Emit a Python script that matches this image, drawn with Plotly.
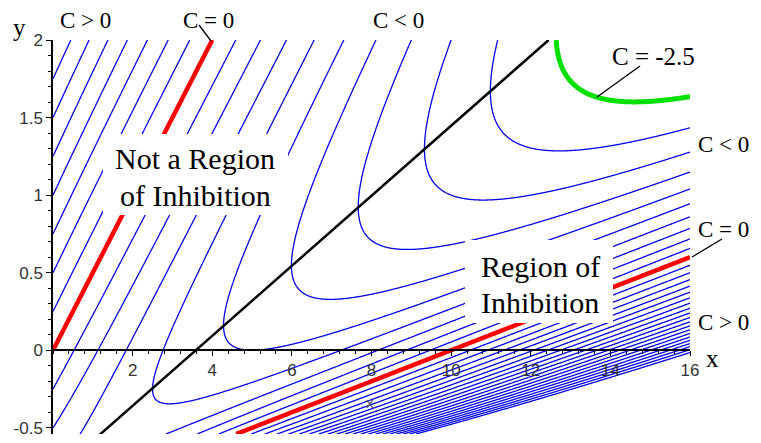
import numpy as np
import plotly.graph_objects as go

# ---------------- data ----------------
x_range = [0, 16]
y_range = [-0.54, 2.0]

# C(x, y) = (y - a*x) * (1 - x / (b*(1 + y)))   -- zero set: y = x/2 and y = x/10 - 1
a_coef = 0.5
b_coef = 10.0

levels_start = -2.5
levels_end = 5.0
levels_step = 0.25
zero_level = 0.0
green_level = -2.5

# black separating line, end points
black_x = [1.15, 12.45]
black_y = [-0.55, 2.0]

x_tickvals = [2, 4, 6, 8, 10, 12, 14, 16]
y_tickvals = [-0.5, 0, 0.5, 1, 1.5, 2]
y_ticktext = ["-0.5", "0", "0.5", "1", "1.5", "2"]

# ---------------- grid ----------------
gx = np.linspace(x_range[0], x_range[1], 801)
gy = np.linspace(y_range[0], y_range[1], 601)
X, Y = np.meshgrid(gx, gy)
Z = (Y - a_coef * X) * (1 - X / (b_coef * (1 + Y)))

fig = go.Figure()

fig.add_trace(go.Contour(
    x=gx, y=gy, z=Z, autocontour=False,
    contours=dict(start=levels_start, end=levels_end, size=levels_step, coloring="lines"),
    colorscale=[[0, "#0000e8"], [1, "#0000e8"]], showscale=False,
    line=dict(width=1.3), hoverinfo="skip"))

fig.add_trace(go.Contour(
    x=gx, y=gy, z=Z, autocontour=False,
    contours=dict(start=zero_level, end=zero_level, size=1, coloring="lines"),
    colorscale=[[0, "#ff0000"], [1, "#ff0000"]], showscale=False,
    line=dict(width=4.5), hoverinfo="skip"))

fig.add_trace(go.Contour(
    x=gx, y=gy, z=Z, autocontour=False,
    contours=dict(start=green_level, end=green_level, size=1, coloring="lines"),
    colorscale=[[0, "#00e000"], [1, "#00e000"]], showscale=False,
    line=dict(width=5), hoverinfo="skip"))

fig.add_trace(go.Scatter(x=black_x, y=black_y, mode="lines",
                         line=dict(color="black", width=2.5), hoverinfo="skip",
                         showlegend=False))

# ---------------- layout helpers (page pixel -> paper) ----------------
OFF = 8  # default body margin of the html page
PAGE_W, PAGE_H = 761, 443
W, H = PAGE_W - OFF, PAGE_H - OFF
L, T = 53 - OFF, 40 - OFF
R, B = 71, 9
PW, PH = W - L - R, H - T - B


def px(v):
    return (v - OFF - L) / PW


def py(v):
    return (H - B - (v - OFF)) / PH


serif = "Liberation Serif, Times New Roman, serif"
sans = "Liberation Sans, Arial, sans-serif"

ann = []


def txt(t, x, y, size=25, font=serif, color="black"):
    ann.append(dict(text=t, x=px(x), y=py(y), xref="paper", yref="paper",
                    xanchor="center", yanchor="middle", showarrow=False,
                    font=dict(family=font, size=size, color=color)))


txt("C &gt; 0", 85, 21, size=23)
txt("C = 0", 208, 21, size=23)
txt("C &lt; 0", 398, 21, size=23)
txt("y", 19, 28)
txt("C = -2.5", 653, 57)
txt("C &lt; 0", 724, 144, size=23)
txt("C = 0", 724, 229, size=23)
txt("C &gt; 0", 724, 322, size=23)
txt("x", 713, 358)
txt("x", 370, 402, size=15, font=sans, color="#555")

txt("Not a Region", 195, 158, size=30)
txt("of Inhibition", 195, 195, size=30)
txt("Region of", 540, 266, size=30)
txt("Inhibition", 540, 302, size=30)

shapes = []


def box(x0, y0, x1, y1):
    shapes.append(dict(type="rect", xref="paper", yref="paper",
                       x0=px(x0), x1=px(x1), y0=py(y1), y1=py(y0),
                       fillcolor="white", line=dict(width=0), layer="above"))


def seg(x0, y0, x1, y1):
    shapes.append(dict(type="line", xref="paper", yref="paper",
                       x0=px(x0), x1=px(x1), y0=py(y0), y1=py(y1),
                       line=dict(color="black", width=1.3), layer="above"))


box(103, 134, 288, 215)
box(465, 240, 613, 323)
seg(199, 25, 211, 41)
seg(640, 66, 597, 97)
seg(722, 239, 692, 257)

fig.update_layout(
    width=W, height=H,
    margin=dict(l=L, r=R, t=T, b=B, pad=0, autoexpand=False),
    paper_bgcolor="white", plot_bgcolor="white",
    showlegend=False,
    annotations=ann, shapes=shapes,
    xaxis=dict(range=x_range, anchor="free", automargin=False,
               position=(0 - y_range[0]) / (y_range[1] - y_range[0]),
               showgrid=False, zeroline=False, showline=True,
               linecolor="black", linewidth=1.5,
               tickmode="array", tickvals=x_tickvals,
               ticks="outside", ticklen=5, tickwidth=1.2, tickcolor="black",
               tickfont=dict(family=sans, size=17, color="#333"),
               minor=dict(dtick=0.4, tick0=0, ticks="outside", ticklen=3,
                          tickcolor="black", tickwidth=1)),
    yaxis=dict(range=y_range, automargin=False, ticklabeloverflow="allow",
               showgrid=False, zeroline=False, showline=True,
               linecolor="black", linewidth=1.5,
               tickmode="array", tickvals=y_tickvals, ticktext=y_ticktext,
               ticks="outside", ticklen=5, tickwidth=1.2, tickcolor="black",
               tickfont=dict(family=sans, size=17, color="#333"),
               minor=dict(dtick=0.1, tick0=0, ticks="outside", ticklen=3,
                          tickcolor="black", tickwidth=1)),
)

fig.write_html("out.html")
